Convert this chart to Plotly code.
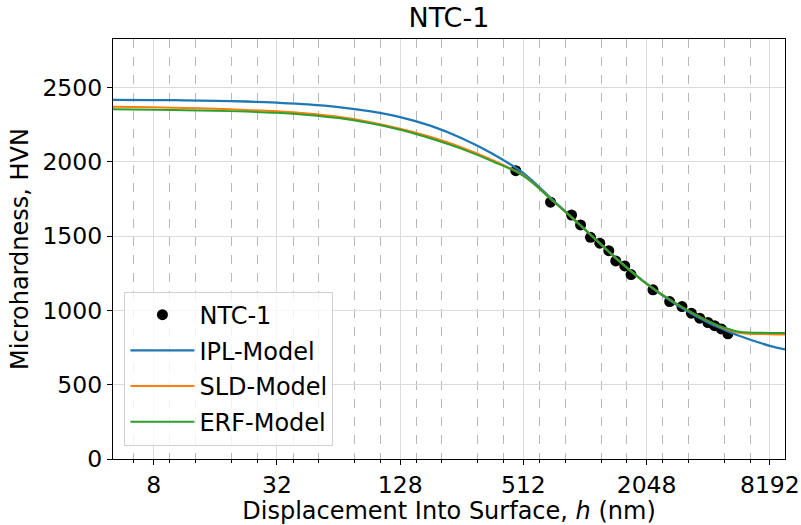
import plotly.graph_objects as go

# ---- data ----
pts_h = [470, 695, 880, 974, 1089, 1209, 1338, 1447, 1601, 1719,
         2200, 2654, 3049, 3388, 3720, 4082, 4400, 4745, 5112]
pts_hv = [1941, 1729, 1643, 1576, 1493, 1453, 1403, 1334, 1300, 1242,
          1139, 1060, 1026, 982, 948, 919, 898, 876, 843]

model_h = [5.06, 8, 11.3, 16, 22.6, 32, 45.3, 64, 90.5, 128, 181, 256, 362,
           512, 724, 1024, 1448, 2048, 2896, 4096, 4870, 5793, 8192, 9714]
ipl_hv = [2418, 2417, 2415, 2412, 2407, 2399, 2388, 2370, 2342, 2302, 2243,
          2160, 2055, 1925, 1735, 1545, 1355, 1180, 1035, 918, 872, 830, 762, 738]
sld_hv = [2372, 2368, 2364, 2358, 2350, 2341, 2326, 2304, 2270, 2224, 2168,
          2098, 2012, 1910, 1730, 1545, 1352, 1180, 1042, 928, 882, 850, 840, 838]
erf_hv = [2355, 2352, 2349, 2345, 2339, 2331, 2317, 2296, 2262, 2217, 2158,
          2088, 2004, 1906, 1730, 1545, 1352, 1180, 1042, 928, 886, 857, 849, 848]

major_ticks = [8, 32, 128, 512, 2048, 8192]
minor_ticks = [6.4, 9.6, 12.8, 19.2, 25.6, 38.4, 51.2, 76.8, 102.4, 153.6,
               204.8, 307.2, 409.6, 614.4, 819.2, 1228.8, 1638.4, 2457.6,
               3276.8, 4915.2, 6553.6]
y_ticks = [0, 500, 1000, 1500, 2000, 2500]

FONT = "DejaVu Sans"

fig = go.Figure()
fig.add_trace(go.Scatter(x=pts_h, y=pts_hv, mode="markers", name="NTC-1",
                         legendgroup="a", marker=dict(color="black", size=11)))
fig.add_trace(go.Scatter(x=model_h, y=ipl_hv, mode="lines", name="IPL-Model",
                         legendgroup="b",
                         line=dict(color="#1f77b4", width=2.3, shape="spline")))
fig.add_trace(go.Scatter(x=model_h, y=sld_hv, mode="lines", name="SLD-Model",
                         legendgroup="c",
                         line=dict(color="#ff7f0e", width=2, shape="spline")))
fig.add_trace(go.Scatter(x=model_h, y=erf_hv, mode="lines", name="ERF-Model",
                         legendgroup="d",
                         line=dict(color="#2ca02c", width=2, shape="spline")))

fig.update_layout(
    width=801, height=525,
    margin=dict(l=112.5, r=15.5, t=39, b=66),
    paper_bgcolor="white", plot_bgcolor="white",
    font=dict(family=FONT, color="black", size=23),
    title=dict(text="NTC-1", x=0.5605, xanchor="center", y=0.966, yanchor="middle",
               font=dict(size=27, family=FONT, color="black")),
    showlegend=True,
    legend=dict(x=0.017, y=0.032, xanchor="left", yanchor="bottom",
                bgcolor="rgba(255,255,255,0.8)", bordercolor="#d0d0d0", borderwidth=1,
                font=dict(size=24, family=FONT), itemwidth=64, tracegroupgap=1.5),
)
fig.update_xaxes(
    type="log", range=[0.7042, 3.9874],
    tickmode="array", tickvals=major_ticks, ticktext=[str(t) for t in major_ticks],
    ticks="outside", ticklen=5, tickwidth=1, tickcolor="black",
    showline=True, linecolor="black", linewidth=1.2, mirror=True,
    showgrid=True, gridcolor="#dcdcdc", gridwidth=1,
    minor=dict(tickmode="array", tickvals=minor_ticks, ticks="outside", ticklen=3,
               tickcolor="black", showgrid=True, gridcolor="#b8b8b8",
               griddash="dash", gridwidth=1),
    title=dict(text="Displacement Into Surface, <i>h</i> (nm)",
               font=dict(size=24, family=FONT), standoff=4),
    tickfont=dict(size=23.5), zeroline=False, automargin=False,
)
fig.update_yaxes(
    range=[0, 2828], tickmode="array", tickvals=y_ticks,
    ticks="outside", ticklen=5, tickwidth=1, tickcolor="black",
    showline=True, linecolor="black", linewidth=1.2, mirror=True,
    showgrid=True, gridcolor="#dcdcdc", gridwidth=1, zeroline=False,
    title=dict(text="Microhardness, HVN", font=dict(size=24, family=FONT), standoff=6),
    tickfont=dict(size=23.5), automargin=False,
)

fig.write_html("out.html", config={"displayModeBar": False},
               post_script="document.body.style.margin='0';document.body.style.overflow='hidden';")
